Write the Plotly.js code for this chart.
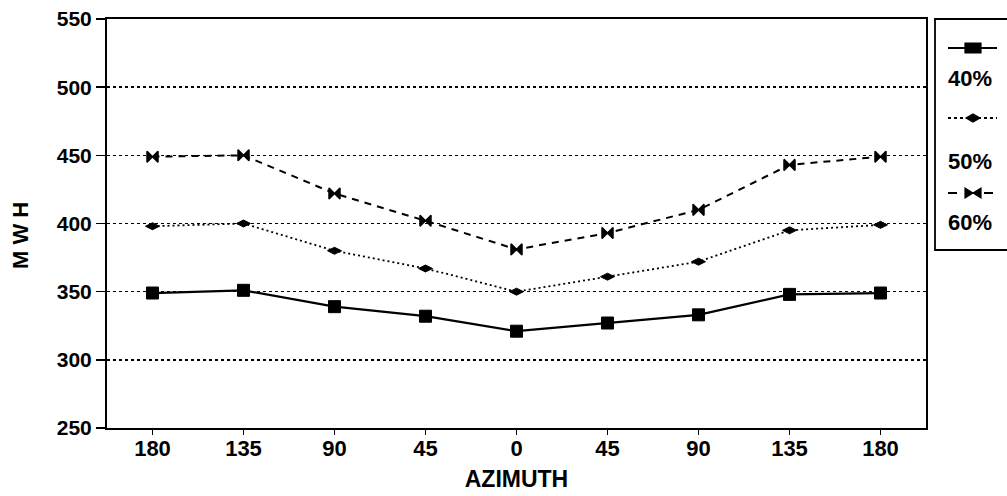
<!DOCTYPE html>
<html>
<head>
<meta charset="utf-8">
<script src="https://cdn.plot.ly/plotly-3.0.1.min.js"></script>
<style>
  html, body { margin: 0; padding: 0; background: #fff; }
  #chart { width: 1007px; height: 496px; }
</style>
</head>
<body>
<div id="chart"></div>
<script>
// Azimuth sweep (degrees) and energy yield (MWH) for three fill levels
const azimuthLabels = ['180', '135', '90', '45', '0', '45', '90', '135', '180'];
const series40 = [349, 351, 339, 332, 321, 327, 333, 348, 349];
const series50 = [398, 400, 380, 367, 350, 361, 372, 395, 399];
const series60 = [449, 450, 422, 402, 381, 393, 410, 443, 449];
const seriesNames = ['40%', '50%', '60%'];

const positions = azimuthLabels.map((_, i) => i);
const FONT = '"Liberation Sans", Arial, sans-serif';

const traces = [
  {
    x: positions, y: series40, name: seriesNames[0], type: 'scatter', mode: 'lines+markers',
    line: { color: '#000', width: 2.2 },
    marker: { symbol: 'square', size: 12, color: '#000', line: { color: '#000', width: 1 } }
  },
  {
    x: positions, y: series50, name: seriesNames[1], type: 'scatter', mode: 'lines+markers',
    line: { color: '#000', width: 1.8, dash: '2px,3px' },
    marker: { symbol: 'diamond-wide', size: 10, color: '#000', line: { color: '#000', width: 1 } }
  },
  {
    x: positions, y: series60, name: seriesNames[2], type: 'scatter', mode: 'lines+markers',
    line: { color: '#000', width: 2, dash: '7px,6px' },
    marker: { symbol: 'bowtie', size: 11, color: '#000', line: { color: '#000', width: 1.5 } }
  }
];

// Plot box in pixels, used to place the side key in paper units
const L = 107, R = 926, T = 19, B = 428;
const px = x => (x - L) / (R - L);
const py = y => (B - y) / (B - T);

// Side key: sample line, marker glyph, label under each sample
const keyRows = [
  { y: 48, label: seriesNames[0], dash: 'solid', width: 2.2,
    glyph: { type: 'rect', x0: -8, x1: 8, y0: -5, y1: 5 } },
  { y: 118, label: seriesNames[1], dash: 'dot', width: 1.8,
    glyph: { type: 'path', path: 'M-7,0 L0,4 L7,0 L0,-4 Z' } },
  { y: 193, label: seriesNames[2], dash: 'dash', width: 2,
    glyph: { type: 'path', path: 'M-8,-5 L8,5 L8,-5 L-8,5 Z' } }
];
const keyLabelY = [78, 161, 222];

const shapes = [
  { type: 'rect', xref: 'paper', yref: 'paper',
    x0: px(935), x1: px(1012), y0: py(250), y1: py(19),
    line: { color: '#000', width: 1.8 }, fillcolor: 'rgba(0,0,0,0)' }
];
const annotations = [];
keyRows.forEach((row, i) => {
  shapes.push({ type: 'line', xref: 'paper', yref: 'paper',
    x0: px(948), x1: px(997), y0: py(row.y), y1: py(row.y),
    line: { color: '#000', width: row.width, dash: row.dash } });
  shapes.push(Object.assign({ xref: 'paper', yref: 'paper',
    xsizemode: 'pixel', ysizemode: 'pixel',
    xanchor: px(973), yanchor: py(row.y),
    fillcolor: '#000', line: { color: '#000', width: 1.2 } }, row.glyph));
  annotations.push({ xref: 'paper', yref: 'paper', x: px(946), y: py(keyLabelY[i]),
    xanchor: 'left', yanchor: 'middle', showarrow: false, text: '<b>' + row.label + '</b>',
    font: { family: FONT, size: 22, color: '#000' } });
});

// Y axis title drawn beside the tick labels
annotations.push({ xref: 'paper', yref: 'paper', x: px(20), y: py(236),
  xanchor: 'center', yanchor: 'middle', textangle: -90, showarrow: false,
  text: '<b>M W H</b>', font: { family: FONT, size: 22, color: '#000' } });

const layout = {
  width: 1007, height: 496,
  margin: { l: L, r: 1007 - R, t: T, b: 496 - B },
  paper_bgcolor: '#fff', plot_bgcolor: '#fff',
  showlegend: false,
  font: { family: FONT, color: '#000' },
  xaxis: {
    range: [-0.5, 8.5], tickmode: 'array', tickvals: positions, ticktext: azimuthLabels,
    ticks: 'outside', ticklen: 5, tickwidth: 1.5, tickcolor: '#000',
    ticklabelstandoff: -5,
    showline: true, linecolor: '#000', linewidth: 2, mirror: true,
    showgrid: false, zeroline: false,
    tickfont: { family: FONT, size: 22, color: '#000', weight: 'bold' },
    title: { text: '<b>AZIMUTH</b>', font: { family: FONT, size: 23, color: '#000' }, standoff: 10 }
  },
  yaxis: {
    range: [250, 550], dtick: 50, tick0: 250,
    ticks: 'outside', ticklen: 9, tickwidth: 1.5, tickcolor: '#000',
    showline: true, linecolor: '#000', linewidth: 2, mirror: true,
    showgrid: true, gridcolor: '#000', gridwidth: 1.5, griddash: 'dot',
    zeroline: false,
    tickfont: { family: FONT, size: 21, color: '#000', weight: 'bold' }
  },
  shapes: shapes,
  annotations: annotations
};

Plotly.newPlot('chart', traces, layout, { displayModeBar: false, staticPlot: true });
</script>
</body>
</html>
